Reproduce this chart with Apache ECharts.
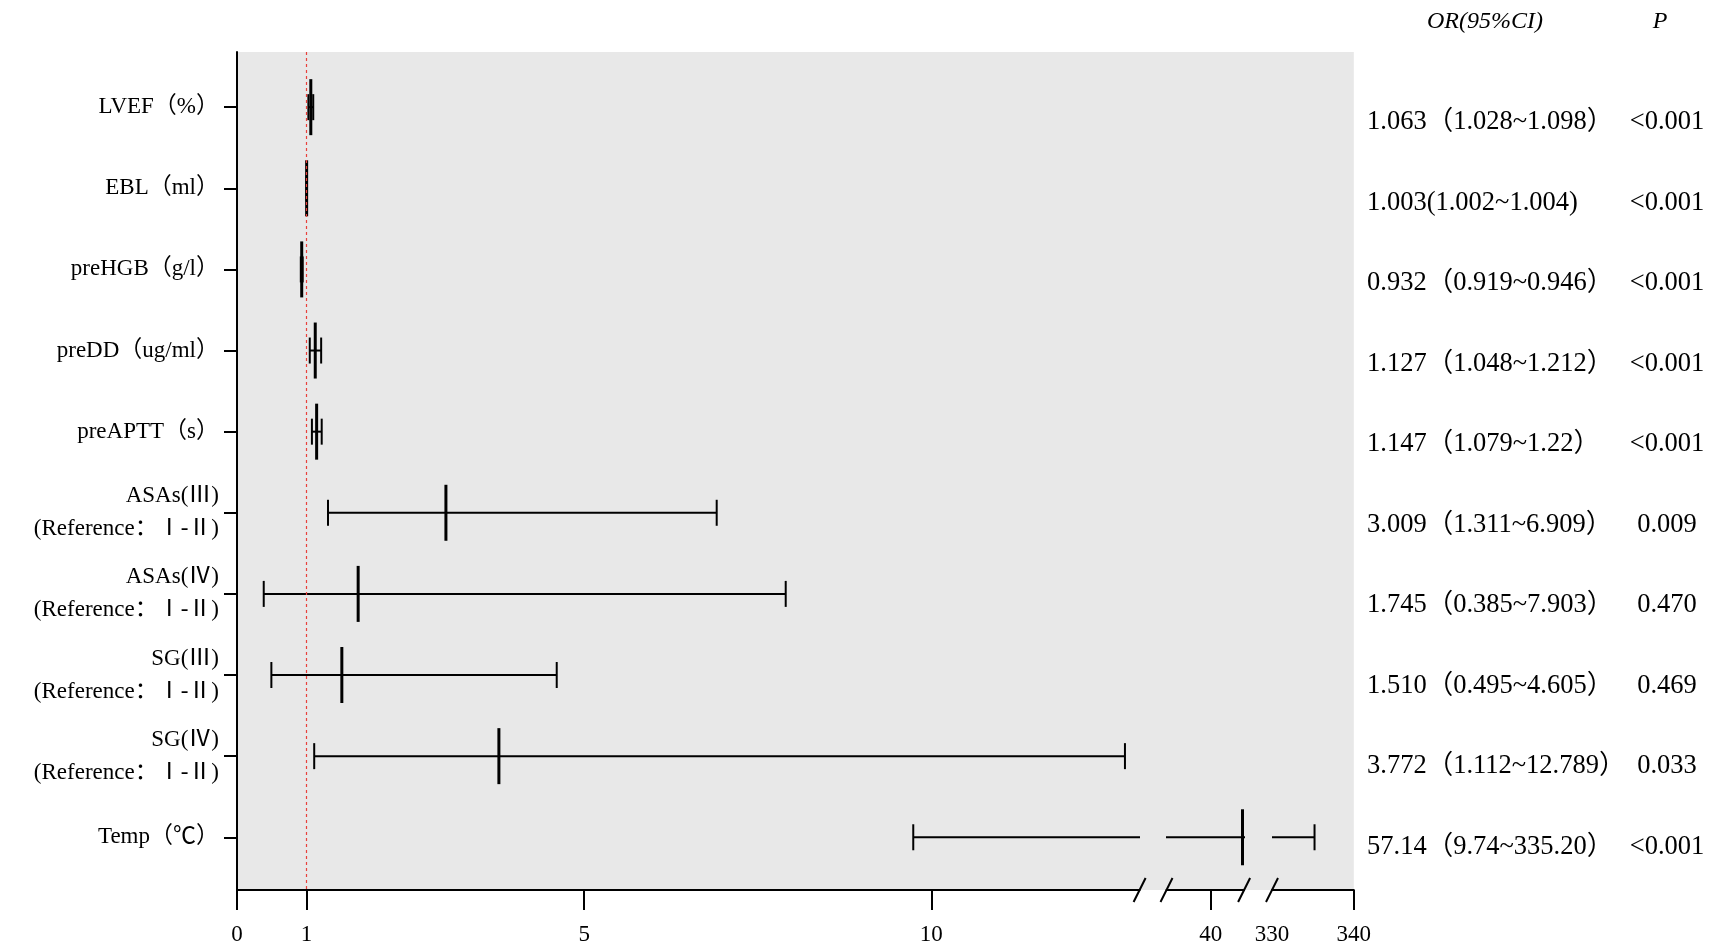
<!DOCTYPE html>
<html>
<head>
<meta charset="utf-8">
<script src="https://cdn.jsdelivr.net/npm/echarts@6/dist/echarts.min.js"></script>
<style>
html,body{margin:0;padding:0;background:#ffffff;}
#chart{width:1712px;height:952px;}
</style>
</head>
<body>
<div id="chart"></div>
<script>
// ---------------- data ----------------
const categories = [
  'LVEF（%）',
  'EBL（ml）',
  'preHGB（g/l）',
  'preDD（ug/ml）',
  'preAPTT（s）',
  'ASAs(Ⅲ)\n(Reference：Ⅰ-Ⅱ)',
  'ASAs(Ⅳ)\n(Reference：Ⅰ-Ⅱ)',
  'SG(Ⅲ)\n(Reference：Ⅰ-Ⅱ)',
  'SG(Ⅳ)\n(Reference：Ⅰ-Ⅱ)',
  'Temp（℃）'
];
const orValues = [1.063, 1.003, 0.932, 1.127, 1.147, 3.009, 1.745, 1.510, 3.772, 57.14];
const lowerCI  = [1.028, 1.002, 0.919, 1.048, 1.079, 1.311, 0.385, 0.495, 1.112, 9.74];
const upperCI  = [1.098, 1.004, 0.946, 1.212, 1.22, 6.909, 7.903, 4.605, 12.789, 335.20];
const orText = [
  '1.063（1.028~1.098）',
  '1.003(1.002~1.004)',
  '0.932（0.919~0.946）',
  '1.127（1.048~1.212）',
  '1.147（1.079~1.22）',
  '3.009（1.311~6.909）',
  '1.745（0.385~7.903）',
  '1.510（0.495~4.605）',
  '3.772（1.112~12.789）',
  '57.14（9.74~335.20）'
];
const pText = ['<0.001', '<0.001', '<0.001', '<0.001', '<0.001', '0.009', '0.470', '0.469', '0.033', '<0.001'];
const headerOR = 'OR(95%CI)';
const headerP = 'P';
const referenceValue = 1;

// broken x axis: three value segments
const segATicks = [0, 1, 5, 10];
const segALabels = [0, 1, 5, 10];
const segBTicks = [40];
const segBLabels = [40];
const segCTicks = [340];
const segCLabels = [330, 340];

// ---------------- layout ----------------
const FONT = "'Liberation Serif','Noto Sans CJK SC',serif";
const TOP = 52, PLOT_H = 838;
const Y_MIN = -0.68, Y_MAX = 9.65;
const segs = [
  {left: 237,    width: 902.6, min: 0,   max: 13,  ticks: segATicks, labels: segALabels},
  {left: 1166.5, width: 77.6,  min: 16,  max: 58,  ticks: segBTicks, labels: segBLabels},
  {left: 1272,   width: 81.8,  min: 330, max: 340, ticks: segCTicks, labels: segCLabels}
];
const CAP = 13, MARK = 28;

const rows = categories.map((c, i) => [i, orValues[i], lowerCI[i], upperCI[i]]);

function renderForest(params, api) {
  const y = api.value(0);
  const pOr = api.coord([api.value(1), y]);
  const pLo = api.coord([api.value(2), y]);
  const pHi = api.coord([api.value(3), y]);
  const st = {stroke: '#000', lineWidth: 2};
  return {
    type: 'group',
    children: [
      {type: 'line', shape: {x1: pLo[0], y1: pLo[1], x2: pHi[0], y2: pHi[1]}, style: st},
      {type: 'line', shape: {x1: pLo[0], y1: pLo[1] - CAP, x2: pLo[0], y2: pLo[1] + CAP}, style: st},
      {type: 'line', shape: {x1: pHi[0], y1: pHi[1] - CAP, x2: pHi[0], y2: pHi[1] + CAP}, style: st},
      {type: 'line', shape: {x1: pOr[0], y1: pOr[1] - MARK, x2: pOr[0], y2: pOr[1] + MARK}, style: {stroke: '#000', lineWidth: 3}}
    ]
  };
}

const grids = [
  {left: 237, top: TOP, width: 1116.8, height: PLOT_H, show: true, backgroundColor: '#e8e8e8', borderWidth: 0, outerBoundsMode: 'none'}
];
segs.forEach(s => grids.push({left: s.left, top: TOP, width: s.width, height: PLOT_H, outerBoundsMode: 'none'}));
grids.push({left: 1300, top: 82, width: 60, height: 805, outerBoundsMode: 'none'});

const xAxes = [
  {type: 'value', gridIndex: 0, show: false, min: 0, max: 1}
];
segs.forEach((s, k) => xAxes.push({
  type: 'value', gridIndex: k + 1, min: s.min, max: s.max, position: 'bottom',
  splitLine: {show: false},
  axisLine: {show: true, onZero: false, lineStyle: {color: '#000', width: 2}},
  axisTick: {show: true, length: 20, customValues: s.ticks, lineStyle: {color: '#000', width: 2}},
  axisLabel: {show: true, customValues: s.labels, margin: 33, fontSize: 23, fontFamily: FONT, color: '#000', showMinLabel: true, showMaxLabel: true}
}));
xAxes.push({type: 'value', gridIndex: 4, show: false, min: 0, max: 1});

const idxValues = categories.map((c, i) => i);
const yAxes = [
  {type: 'value', gridIndex: 0, show: false, min: 0, max: 1},
  {
    type: 'value', gridIndex: 1, inverse: true, min: Y_MIN, max: Y_MAX,
    splitLine: {show: false},
    axisLine: {show: true, onZero: false, lineStyle: {color: '#000', width: 2}},
    axisTick: {show: true, length: 13, customValues: idxValues, lineStyle: {color: '#000', width: 2}},
    axisLabel: {
      show: true, customValues: idxValues, margin: 18, align: 'right',
      formatter: v => categories[Math.round(v)],
      fontSize: 23, lineHeight: 33, fontFamily: FONT, color: '#000'
    }
  },
  {type: 'value', gridIndex: 2, show: false, inverse: true, min: Y_MIN, max: Y_MAX},
  {type: 'value', gridIndex: 3, show: false, inverse: true, min: Y_MIN, max: Y_MAX},
  {
    type: 'category', gridIndex: 4, position: 'right', inverse: true, data: categories,
    axisLine: {show: false}, axisTick: {show: false}, splitLine: {show: false},
    axisLabel: {
      show: true, interval: 0, margin: 7,
      formatter: (v, i) => '{or|' + orText[i] + '}{p|' + pText[i] + '}',
      rich: {
        or: {width: 262, fontSize: 26.5, fontFamily: FONT, color: '#000'},
        p: {width: 76, align: 'center', fontSize: 26.5, fontFamily: FONT, color: '#000'}
      }
    }
  }
];

const series = segs.map((s, k) => {
  const ser = {
    type: 'custom', xAxisIndex: k + 1, yAxisIndex: k + 1, clip: true, silent: true,
    dimensions: ['idx', 'or', 'lo', 'hi'],
    encode: {x: [1, 2, 3], y: 0},
    renderItem: renderForest,
    data: rows
  };
  if (k === 0) {
    ser.markLine = {
      silent: true, symbol: 'none', label: {show: false},
      lineStyle: {color: '#e8413c', type: [3, 3], width: 1.2},
      data: [{xAxis: referenceValue}]
    };
  }
  return ser;
});

// axis break marks at segment edges
const breakXs = [segs[0].left + segs[0].width, segs[1].left, segs[1].left + segs[1].width, segs[2].left];
const axisY = TOP + PLOT_H;
const graphics = breakXs.map(x => ({
  type: 'line', z: 100,
  shape: {x1: x - 6, y1: axisY + 12, x2: x + 6, y2: axisY - 12},
  style: {stroke: '#000', lineWidth: 2}
}));
graphics.push({type: 'text', x: 1485, y: 22, style: {text: headerOR, fontSize: 24, fontStyle: 'italic', fontFamily: FONT, fill: '#000', align: 'center', verticalAlign: 'middle'}});
graphics.push({type: 'text', x: 1660, y: 22, style: {text: headerP, fontSize: 24, fontStyle: 'italic', fontFamily: FONT, fill: '#000', align: 'center', verticalAlign: 'middle'}});

const chart = echarts.init(document.getElementById('chart'), null, {renderer: 'canvas'});
chart.setOption({
  backgroundColor: '#ffffff',
  animation: false,
  grid: grids,
  xAxis: xAxes,
  yAxis: yAxes,
  series: series,
  graphic: graphics
});
</script>
</body>
</html>
